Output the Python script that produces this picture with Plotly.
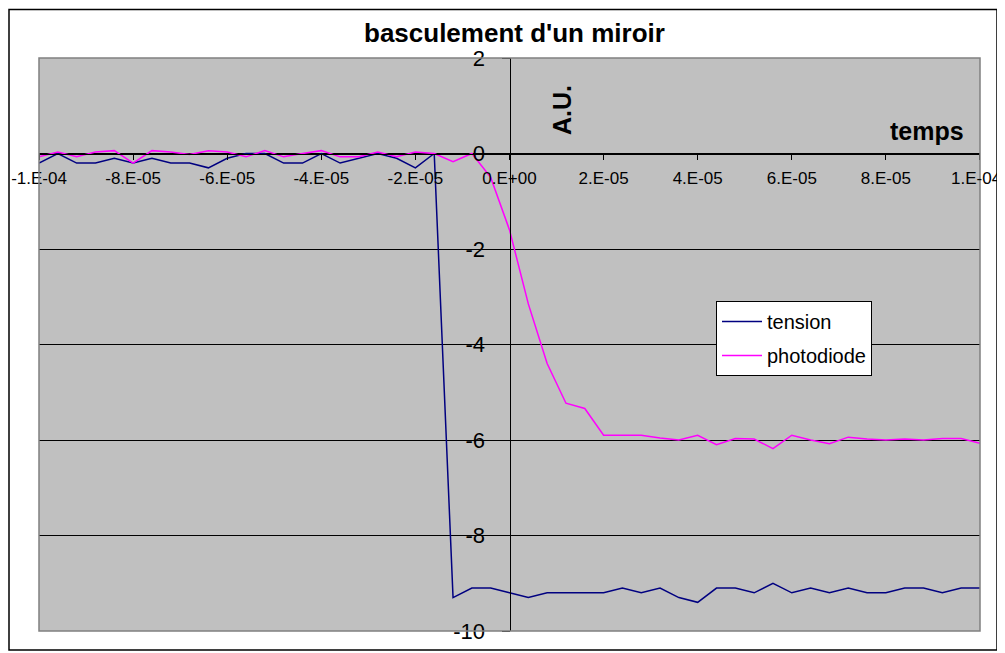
import plotly.graph_objects as go

# ---- data ----
time = [-1.00e-4, -9.6e-5, -9.2e-5, -8.8e-5, -8.4e-5, -8.0e-5, -7.6e-5, -7.2e-5, -6.8e-5, -6.4e-5,
        -6.0e-5, -5.6e-5, -5.2e-5, -4.8e-5, -4.4e-5, -4.0e-5, -3.6e-5, -3.2e-5, -2.8e-5, -2.4e-5,
        -2.0e-5, -1.6e-5, -1.2e-5, -8.0e-6, -4.0e-6, 0.0, 4.0e-6, 8.0e-6, 1.2e-5, 1.6e-5,
        2.0e-5, 2.4e-5, 2.8e-5, 3.2e-5, 3.6e-5, 4.0e-5, 4.4e-5, 4.8e-5, 5.2e-5, 5.6e-5,
        6.0e-5, 6.4e-5, 6.8e-5, 7.2e-5, 7.6e-5, 8.0e-5, 8.4e-5, 8.8e-5, 9.2e-5, 9.6e-5, 1.00e-4]

tension = [-0.2, 0.0, -0.2, -0.2, -0.1, -0.2, -0.1, -0.2, -0.2, -0.3,
           -0.1, 0.0, 0.0, -0.2, -0.2, 0.0, -0.2, -0.1, 0.0, -0.1,
           -0.3, 0.0, -9.3, -9.1, -9.1, -9.2, -9.3, -9.2, -9.2, -9.2,
           -9.2, -9.1, -9.2, -9.1, -9.3, -9.4, -9.1, -9.1, -9.2, -9.0,
           -9.2, -9.1, -9.2, -9.1, -9.2, -9.2, -9.1, -9.1, -9.2, -9.1, -9.1]

photodiode = [-0.07, 0.03, -0.07, 0.03, 0.06, -0.2, 0.06, 0.03, -0.02, 0.06,
              0.03, -0.07, 0.06, -0.07, 0.0, 0.06, -0.07, -0.07, 0.03, -0.07,
              0.03, 0.0, -0.17, 0.0, -0.5, -1.6, -3.15, -4.4, -5.23, -5.34,
              -5.9, -5.9, -5.9, -5.96, -6.0, -5.9, -6.1, -5.97, -5.98, -6.18,
              -5.9, -6.0, -6.08, -5.94, -5.98, -6.0, -5.98, -6.0, -5.97, -5.97, -6.07]

x_tickvals = [-1e-4, -8e-5, -6e-5, -4e-5, -2e-5, 0.0, 2e-5, 4e-5, 6e-5, 8e-5, 1e-4]
x_ticktext = ["-1.E-04", "-8.E-05", "-6.E-05", "-4.E-05", "-2.E-05", "0.E+00",
              "2.E-05", "4.E-05", "6.E-05", "8.E-05", "1.E-04"]
y_tickvals = [2, 0, -2, -4, -6, -8, -10]
y_ticktext = ["2", "0", "-2", "-4", "-6", "-8", "-10"]

FONT = "Liberation Sans, Arial, sans-serif"
X_RANGE = [-1.00005e-4, 1.00005e-4]
Y_RANGE = [-10, 2]

# page body has an 8px margin: figure is placed at (8, 8)
OFF = 8
L, T = 39, 58          # plot-area left / top in page pixels
PW, PH = 941, 573      # plot-area size

fig = go.Figure()
fig.add_trace(go.Scatter(x=time, y=tension, mode="lines", name="tension",
                         line=dict(color="#000080", width=1.5), legendgroup="a"))
fig.add_trace(go.Scatter(x=time, y=photodiode, mode="lines", name="photodiode",
                         line=dict(color="#FF00FF", width=1.5), legendgroup="b"))

# axes cross at zero
x_pos = (0 - Y_RANGE[0]) / (Y_RANGE[1] - Y_RANGE[0])
y_pos = (0 - X_RANGE[0]) / (X_RANGE[1] - X_RANGE[0])


def px_x(p):
    return (p - L) / PW


def px_y(p):
    return 1 - (p - T) / PH


# the last x tick label sits against the right edge: drawn right-aligned so it stays inside
axis_ticktext = x_ticktext[:-1] + [""]

fig.update_layout(
    template="none",
    width=1005 - OFF, height=653 - OFF,
    margin=dict(l=L - OFF, r=1005 - L - PW, t=T - OFF, b=653 - T - PH, pad=0),
    paper_bgcolor="white",
    plot_bgcolor="#C0C0C0",
    font=dict(family=FONT, color="black"),
    showlegend=True,
    legend=dict(x=px_x(716), y=px_y(301), xanchor="left", yanchor="top",
                bgcolor="white", bordercolor="black", borderwidth=1,
                font=dict(family=FONT, size=20, color="black"), tracegroupgap=5,
                itemwidth=40),
    xaxis=dict(range=X_RANGE, anchor="free", position=x_pos, showgrid=False, zeroline=False,
               showline=True, linecolor="black", linewidth=1,
               tickmode="array", tickvals=x_tickvals, ticktext=axis_ticktext,
               ticks="outside", ticklen=5, tickcolor="black",
               tickfont=dict(family=FONT, size=17, color="black"),
               ticklabelstandoff=4, ticklabeloverflow="allow", automargin=False),
    yaxis=dict(range=Y_RANGE, anchor="free", position=y_pos, showgrid=True, gridcolor="black",
               gridwidth=1, zeroline=False, showline=True, linecolor="black", linewidth=1,
               tickmode="array", tickvals=y_tickvals, ticktext=y_ticktext,
               ticks="outside", ticklen=8, tickcolor="black",
               tickfont=dict(family=FONT, size=22, color="black"),
               ticklabelstandoff=12, ticklabeloverflow="allow", automargin=False),
)

fig.add_annotation(text=x_ticktext[-1], xref="paper", yref="paper",
                   x=px_x(1003), y=px_y(178), xanchor="right", yanchor="middle",
                   showarrow=False, font=dict(family=FONT, size=17, color="black"))

# plot-area border (grey) and outer chart border (black)
fig.add_shape(type="rect", xref="paper", yref="paper", x0=0, y0=0, x1=1, y1=1,
              line=dict(color="#808080", width=1.5), layer="above")
fig.add_shape(type="rect", xref="paper", yref="paper",
              x0=px_x(9), x1=px_x(997), y0=px_y(650), y1=px_y(9.5),
              line=dict(color="black", width=1.5), layer="above")

# title and axis titles
fig.add_annotation(text="<b>basculement d'un miroir</b>", xref="paper", yref="paper",
                   x=px_x(514), y=px_y(33), xanchor="center", yanchor="middle",
                   showarrow=False, font=dict(family=FONT, size=26, color="black"))
fig.add_annotation(text="<b>A.U.</b>", xref="paper", yref="paper",
                   x=px_x(562), y=px_y(110), xanchor="center", yanchor="middle",
                   textangle=-90, showarrow=False, font=dict(family=FONT, size=25, color="black"))
fig.add_annotation(text="<b>temps</b>", xref="paper", yref="paper",
                   x=px_x(927), y=px_y(131), xanchor="center", yanchor="middle",
                   showarrow=False, font=dict(family=FONT, size=25, color="black"))

fig.write_html("out.html")
